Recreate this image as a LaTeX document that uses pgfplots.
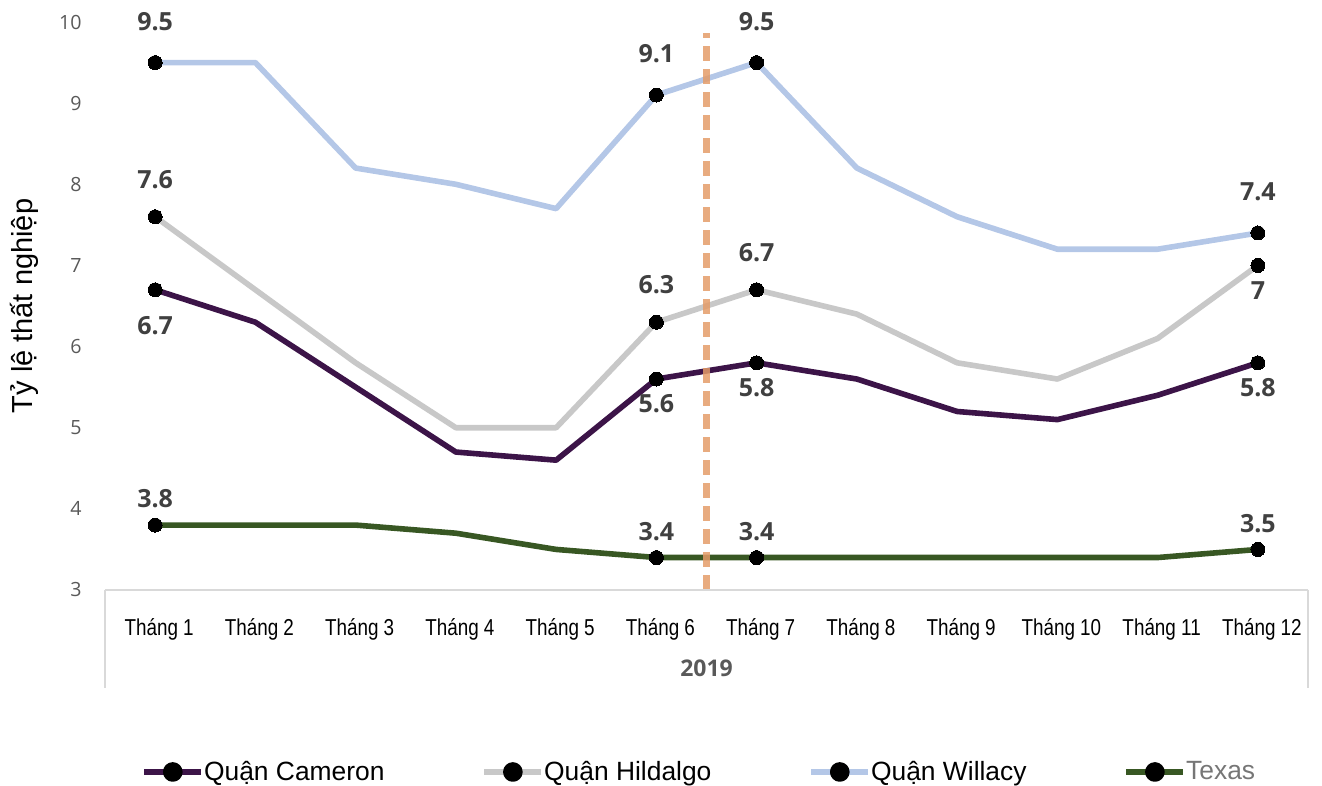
\documentclass[border=0pt]{standalone}
\usepackage{fontspec}
\setmainfont{Liberation Sans}
\newfontfamily\narrowfont{Liberation Sans}[FakeStretch=0.82]
\newfontfamily\osfont{Open Sans}
\usepackage{pgfplots}
\pgfplotsset{compat=1.18}
\definecolor{cam}{RGB}{60,20,72}
\definecolor{hid}{RGB}{200,200,200}
\definecolor{wil}{RGB}{180,199,231}
\definecolor{tex}{RGB}{56,87,35}
\definecolor{divcol}{RGB}{228,156,105}
\definecolor{tickgray}{RGB}{89,89,89}
\definecolor{lblgray}{RGB}{64,64,64}
\definecolor{boxgray}{RGB}{217,217,217}
\definecolor{texgray}{RGB}{118,118,118}
\begin{document}
\begin{tikzpicture}
\useasboundingbox (0,0) rectangle (661pt,393pt);
\begin{axis}[
  at={(52.5pt,98pt)}, anchor=south west,
  scale only axis, width=601.5pt, height=284pt,
  xmin=-0.5, xmax=11.5, ymin=3, ymax=10,
  clip=false,
  axis line style={draw=none},
  tick style={draw=none},
  xtick={0,...,11},
  xticklabels={Tháng 1,Tháng 2,Tháng 3,Tháng 4,Tháng 5,Tháng 6,Tháng 7,Tháng 8,Tháng 9,Tháng 10,Tháng 11,Tháng 12},
  ytick={3,...,10},
  /pgf/number format/assume math mode=true,
  yticklabel style={font=\osfont\fontsize{9.8}{11}\selectfont, text=tickgray, anchor=east, inner xsep=0pt, xshift=-11.5pt},
  xticklabel style={font=\narrowfont\fontsize{11.5}{13}\selectfont, text=black, anchor=base, yshift=-23pt, xshift=2pt},
  ylabel={Tỷ lệ thất nghiệp},
  ylabel style={at={(axis description cs:-0.0599,0.5)}, anchor=base, font=\fontsize{14.5}{16}\selectfont},
  legend columns=4,
  legend cell align=left,
  legend style={at={(axis description cs:0.0300,-0.3204)}, anchor=west, draw=none, fill=none, inner sep=0pt,
    font=\fontsize{13.2}{15}\selectfont,
    nodes={inner xsep=0pt},
    /tikz/every even column/.append style={column sep=48.5pt}},
  legend image code/.code={\draw[#1, mark=none] (0pt,0pt) -- (28.5pt,0pt); \fill[black] (14.25pt,0pt) circle (3.5pt);},
  every axis plot/.append style={line width=2.8pt, line join=round},
]
% main series
\addplot[cam, mark=*, mark indices={1,6,7,12}, mark size=3.5pt, mark options={fill=black, draw=black, line width=0pt}]
  coordinates {(0,6.7) (1,6.3) (2,5.5) (3,4.7) (4,4.6) (5,5.6) (6,5.8) (7,5.6) (8,5.2) (9,5.1) (10,5.4) (11,5.8)};
\addlegendentry{Quận Cameron}
\addplot[hid, mark=*, mark indices={1,6,7,12}, mark size=3.5pt, mark options={fill=black, draw=black, line width=0pt}]
  coordinates {(0,7.6) (1,6.7) (2,5.8) (3,5.0) (4,5.0) (5,6.3) (6,6.7) (7,6.4) (8,5.8) (9,5.6) (10,6.1) (11,7.0)};
\addlegendentry{Quận Hildalgo}
\addplot[wil, mark=*, mark indices={1,6,7,12}, mark size=3.5pt, mark options={fill=black, draw=black, line width=0pt}]
  coordinates {(0,9.5) (1,9.5) (2,8.2) (3,8.0) (4,7.7) (5,9.1) (6,9.5) (7,8.2) (8,7.6) (9,7.2) (10,7.2) (11,7.4)};
\addlegendentry{Quận Willacy}
\addplot[tex, mark=*, mark indices={1,6,7,12}, mark size=3.5pt, mark options={fill=black, draw=black, line width=0pt}]
  coordinates {(0,3.8) (1,3.8) (2,3.8) (3,3.7) (4,3.5) (5,3.4) (6,3.4) (7,3.4) (8,3.4) (9,3.4) (10,3.4) (11,3.5)};
\addlegendentry{\textcolor{texgray}{Texas}}
% dashed divider
\addplot[divcol, line width=3.2pt, dash pattern=on 7.5pt off 4pt, opacity=0.85, forget plot]
  coordinates {(5.5,3) (5.5,9.86)};
% data labels
\pgfplotsset{lbl/.style={draw=none, mark=none, forget plot, point meta=explicit symbolic, nodes near coords,
   every node near coord/.append style={anchor=center, yshift=#1, font=\osfont\bfseries\fontsize{12.5}{13}\selectfont, text=lblgray, inner sep=0pt}}}
\addplot[lbl=20.5pt] table[meta=l] {
x y l
0 9.5 9.5
5 9.1 9.1
6 9.5 9.5
11 7.4 7.4
};
\addplot[lbl=18.75pt] table[meta=l] {
x y l
0 7.6 7.6
5 6.3 6.3
6 6.7 6.7
};
\addplot[lbl=-12.5pt] table[meta=l] {
x y l
11 7.0 7
5 5.6 5.6
6 5.8 5.8
11 5.8 5.8
};
\addplot[lbl=-18pt] table[meta=l] {
x y l
0 6.7 6.7
};
\addplot[lbl=13pt] table[meta=l] {
x y l
0 3.8 3.8
5 3.4 3.4
6 3.4 3.4
11 3.5 3.5
};
% category box
\draw[boxgray, line width=0.8pt] (rel axis cs:0,0) -- (rel axis cs:1,0);
\draw[boxgray, line width=0.8pt] (rel axis cs:0,0) -- ++(0pt,-49pt);
\draw[boxgray, line width=0.8pt] (rel axis cs:1,0) -- ++(0pt,-49pt);
\node[font=\osfont\bfseries\fontsize{11.5}{13}\selectfont, text=tickgray] at ([yshift=-39pt]rel axis cs:0.5,0) {2019};
\end{axis}
\end{tikzpicture}
\end{document}
